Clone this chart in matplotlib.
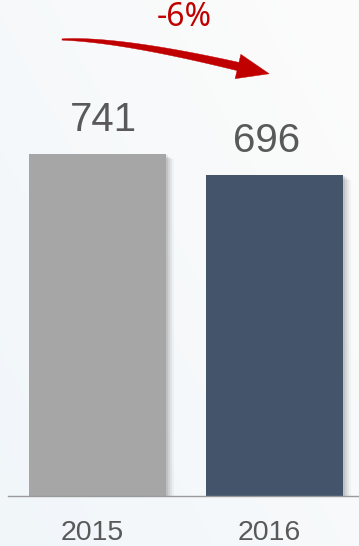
import matplotlib
matplotlib.use("Agg")
import numpy as np
import matplotlib.pyplot as plt
from matplotlib.patches import Polygon
from matplotlib.transforms import ScaledTranslation
import matplotlib.patheffects as pe

years = ["2015", "2016"]
values = [741, 696]
colors = ["#A6A6A6", "#44546A"]
change_label = "-6%"

W, H = 359, 546
fig = plt.figure(figsize=(W / 100, H / 100), dpi=100)

# soft background gradient
bg = fig.add_axes([0, 0, 1, 1], zorder=-10)
gx, gy = np.meshgrid(np.linspace(0, 1, 200), np.linspace(0, 1, 200))
t = np.clip(0.55 * gx + 0.45 * (1 - gy), 0, 1)
c0 = np.array([0.945, 0.965, 0.980])
c1 = np.array([0.990, 0.988, 0.985])
img = c0[None, None, :] * (1 - t[..., None]) + c1[None, None, :] * t[..., None]
bg.imshow(img, extent=[0, 1, 0, 1], aspect="auto", origin="upper")
bg.axis("off")

ax = fig.add_axes([8 / W, 50 / H, 1 - 8 / W, 496 / H])
ax.set_facecolor("none")
x = list(range(len(years)))
bars = ax.bar(x, values, width=0.774, color=colors, zorder=3)
shadow = [pe.SimplePatchShadow(offset=(o, -o * 0.6), alpha=a, shadow_rgbFace="#000000")
          for o, a in [(6, 0.03), (4.5, 0.05), (3, 0.07), (1.5, 0.08)]]
for b in bars:
    b.set_path_effects(shadow + [pe.Normal()])

ax.set_xlim(-0.5056, 1.477)
ax.set_ylim(0, 1075)
for s in ["top", "right", "left"]:
    ax.spines[s].set_visible(False)
ax.spines["bottom"].set_color("#9a9a9a")
ax.spines["bottom"].set_linewidth(1)
ax.spines["bottom"].set_zorder(4)
ax.set_yticks([])
ax.set_xticks(x)
ax.set_xticklabels(years, fontsize=20.5, color="#595959", family="Liberation Sans")
ax.tick_params(axis="x", length=0, pad=17)
for lab in ax.get_xticklabels():
    lab.set_transform(lab.get_transform() + ScaledTranslation(-5 / 100, 0, fig.dpi_scale_trans))

label_dx = [6, -8]
for xi, v, dx in zip(x, values, label_dx):
    ax.annotate(f"{v}", (xi, v), xytext=(dx, 15), textcoords="offset pixels",
                ha="center", va="bottom", fontsize=29, color="#595959", family="Liberation Sans")

# curved tapered arrow (pixel coords, y down)
P0, P1, P2 = np.array([62, 39.5]), np.array([120, 39.0]), np.array([238, 66.5])
tt = np.linspace(0, 1, 60)
pts = ((1 - tt) ** 2)[:, None] * P0 + (2 * (1 - tt) * tt)[:, None] * P1 + (tt ** 2)[:, None] * P2
der = (2 * (1 - tt))[:, None] * (P1 - P0) + (2 * tt)[:, None] * (P2 - P1)
tan = der / np.linalg.norm(der, axis=1)[:, None]
nrm = np.column_stack([-tan[:, 1], tan[:, 0]])
wd = 0.6 + 3.6 * tt ** 0.8
upper = pts + nrm * wd[:, None]
lower = pts - nrm * wd[:, None]
d = tan[-1]
n = nrm[-1]
tip = P2 + d * 32
hb1 = P2 + n * 12.5
hb2 = P2 - n * 12.5
poly = np.vstack([upper, hb1, tip, hb2, lower[::-1]])
poly_fig = np.column_stack([poly[:, 0] / W, 1 - poly[:, 1] / H])
fig.patches.append(Polygon(poly_fig, closed=True, transform=fig.transFigure,
                           facecolor="#C00000", edgecolor="#C00000", lw=0.3))

fig.text(184 / W, 1 - 18 / H, change_label, ha="center", va="center", fontsize=23,
         color="#C00000", family="Noto Sans", fontstyle="normal", fontweight="normal")

fig.savefig("out.png", dpi=100)
